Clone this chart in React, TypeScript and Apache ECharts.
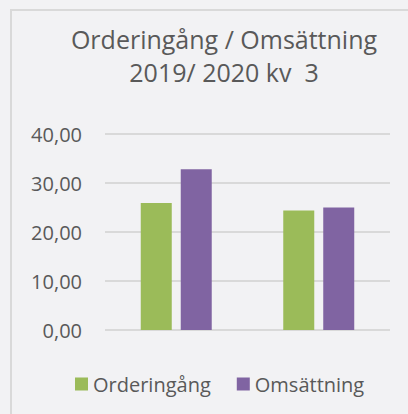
import React, { useEffect, useRef } from "react";
import * as echarts from "echarts";

const categories = ["2019", "2020"];
const orderingang = [25.9, 24.4];
const omsattning = [32.8, 25.0];
const seriesNames = ["Orderingång", "Omsättning"];
const titleLines = ["Orderingång / Omsättning", "2019/ 2020 kv  3"];

const FONT = "Open Sans";
const TEXT = "#595959";

export default function App() {
  const ref = useRef<HTMLDivElement>(null);
  useEffect(() => {
    const chart = echarts.init(ref.current!, null, { renderer: "svg" });
    chart.setOption({
      animation: false,
      backgroundColor: "#f2f2f4",
      textStyle: { fontFamily: FONT },
      title: {
        text: titleLines.join("\n"),
        left: 219,
        top: 17,
        textAlign: "center",
        textStyle: { fontFamily: FONT, fontSize: 25, fontWeight: "normal", color: TEXT, lineHeight: 33 },
      },
      graphic: [
        {
          type: "rect",
          shape: { x: 11, y: 10, width: 420, height: 420 },
          style: { fill: "none", stroke: "#d9d9d9", lineWidth: 2 },
          silent: true,
        },
      ],
      legend: {
        data: seriesNames,
        left: 70,
        top: 369,
        itemWidth: 13,
        itemHeight: 13,
        itemGap: 26,
        icon: "rect",
        textStyle: { fontFamily: FONT, fontSize: 20, color: TEXT },
      },
      grid: { left: 105, right: 18, top: 134, bottom: 84 },
      xAxis: {
        type: "category",
        data: categories,
        axisLine: { show: false },
        axisTick: { show: false },
        axisLabel: { show: false },
      },
      yAxis: {
        type: "value",
        min: 0,
        max: 40,
        interval: 10,
        axisLabel: {
          margin: 23,
          fontFamily: FONT,
          fontSize: 20,
          color: TEXT,
          formatter: (v: number) => v.toFixed(2).replace(".", ","),
        },
        splitLine: { lineStyle: { color: "#d9d9d9", width: 2 } },
      },
      series: [
        {
          name: seriesNames[0],
          type: "bar",
          data: orderingang,
          barWidth: 31,
          barGap: "29%",
          itemStyle: { color: "#9bbb59" },
        },
        {
          name: seriesNames[1],
          type: "bar",
          data: omsattning,
          barWidth: 31,
          itemStyle: { color: "#8064a2" },
        },
      ],
    });
    return () => chart.dispose();
  }, []);
  return <div ref={ref} style={{ position: "fixed", left: 0, top: 0, width: 408, height: 414 }} />;
}
